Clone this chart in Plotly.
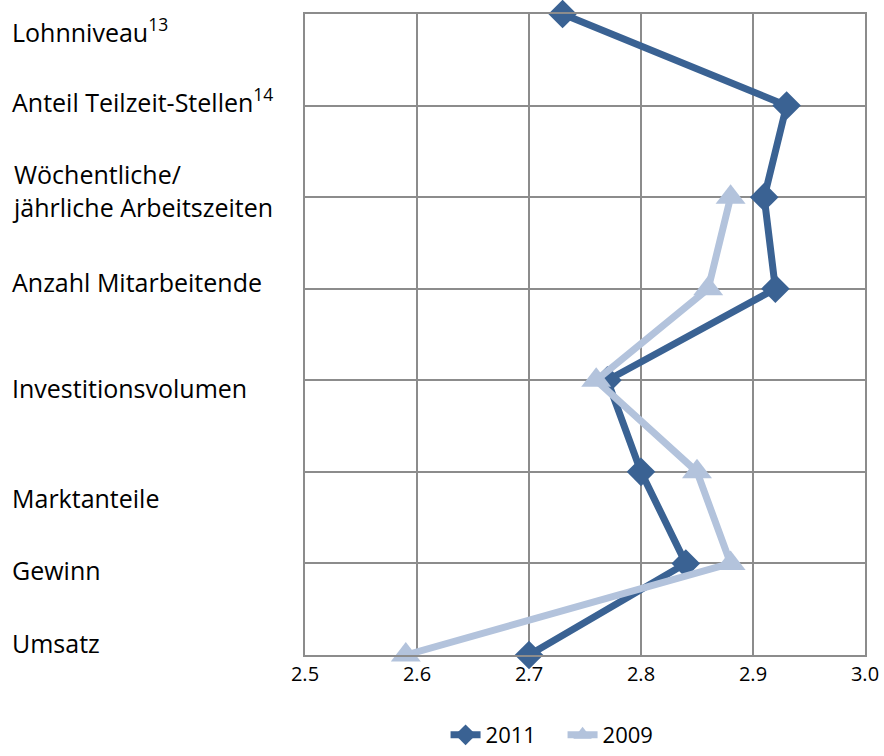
import plotly.graph_objects as go

categories = ["Lohnniveau", "Anteil Teilzeit-Stellen", "Wöchentliche/ jährliche Arbeitszeiten",
              "Anzahl Mitarbeitende", "Investitionsvolumen", "Marktanteile", "Gewinn", "Umsatz"]
label_texts = ["Lohnniveau<sup>13</sup>", "Anteil Teilzeit-Stellen<sup>14</sup>",
               "Wöchentliche/<br>jährliche Arbeitszeiten", "Anzahl Mitarbeitende",
               "Investitionsvolumen", "Marktanteile", "Gewinn", "Umsatz"]
label_shift = [-16, 5, 7, 7, -8, -26, -7, 12]
values_2011 = [2.73, 2.93, 2.91, 2.92, 2.77, 2.80, 2.84, 2.70]
values_2009 = [None, None, 2.88, 2.86, 2.76, 2.85, 2.88, 2.59]
x_ticks = [2.5, 2.6, 2.7, 2.8, 2.9, 3.0]
x_ticktext = ["2.5", "2.6", "2.7", "2.8", "2.9", "3.0"]

dark = "#3A6293"
light = "#B3C3DC"
grid = "#8C8C8C"
font = "Open Sans"

fig = go.Figure()
fig.add_trace(go.Scatter(x=values_2011, y=categories, name="2011", mode="lines+markers",
                         line=dict(color=dark, width=7),
                         marker=dict(symbol="diamond", size=22, color=dark),
                         cliponaxis=False))
fig.add_trace(go.Scatter(x=values_2009, y=categories, name="2009", mode="lines+markers",
                         line=dict(color=light, width=7),
                         marker=dict(symbol="triangle-up", size=26, color=light),
                         connectgaps=False, cliponaxis=False))

for cat, txt, sh in zip(categories, label_texts, label_shift):
    fig.add_annotation(x=0, xref="paper", xshift=-295, y=cat, yref="y", yshift=sh,
                       text=txt, showarrow=False, xanchor="left", align="left",
                       font=dict(family=font, size=25, color="black"))

fig.update_layout(
    width=884, height=756,
    margin=dict(l=305, r=19, t=14, b=101, autoexpand=False),
    paper_bgcolor="white", plot_bgcolor="white",
    font=dict(family=font, size=20, color="black"),
    showlegend=True,
    legend=dict(orientation="h", x=0.251, xanchor="left", xref="paper",
                y=-0.1576, yanchor="bottom", yref="paper", entrywidth=72,
                font=dict(family=font, size=22), tracegroupgap=0),
    xaxis=dict(range=[2.5, 3.0], tickvals=x_ticks, ticktext=x_ticktext, automargin=False,
               showgrid=True, gridcolor=grid, gridwidth=1.5,
               showline=True, linecolor=grid, linewidth=1.5, mirror=True,
               zeroline=False, ticks="", tickfont=dict(family=font, size=20)),
    yaxis=dict(type="category", categoryorder="array", categoryarray=categories,
               range=[7, 0], showticklabels=False, automargin=False,
               showgrid=True, gridcolor=grid, gridwidth=1.5,
               showline=True, linecolor=grid, linewidth=1.5, mirror=True,
               zeroline=False, ticks=""),
)

fig.write_html("out.html", config={"displayModeBar": False},
               post_script="document.body.style.margin='0';document.body.style.padding='0';")
